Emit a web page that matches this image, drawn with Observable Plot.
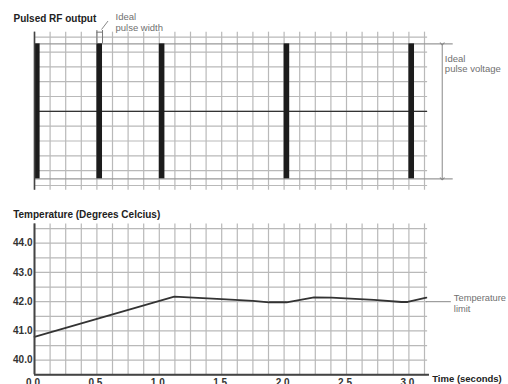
<!DOCTYPE html>
<html>
<head>
<meta charset="utf-8">
<script src="https://cdn.jsdelivr.net/npm/d3@7"></script>
<script src="https://cdn.jsdelivr.net/npm/@observablehq/plot@0.6"></script>
<style>
  html, body { margin: 0; padding: 0; background: #fff; }
  #chart { width: 508px; height: 384px; overflow: hidden; }
  #chart svg { display: block; }
</style>
</head>
<body>
<div id="chart"></div>
<script>
// ---- data ----
const pulseTimes = [0, 0.5, 1.0, 2.0, 3.0];      // seconds
const pulseWidth = 0.045;                          // seconds
const pulseLevel = 4.55;                           // ideal pulse voltage (grid units)
const gridTimes = d3.range(0, 26).map(k => k * 0.125);
const pulseGridLevels = d3.range(-5, 6);

const tempTime = [0, 1.12, 1.5, 1.75, 1.88, 2.02, 2.24, 2.38, 2.72, 2.94, 2.99, 3.14];
const tempValue = [40.8, 42.17, 42.09, 42.03, 41.98, 41.98, 42.15, 42.14, 42.06, 41.99, 41.99, 42.14];
const tempLimit = 42.0;
const tempGridLevels = d3.range(0, 11).map(k => 39.5 + k * 0.5);
const yTicks = [40, 41, 42, 43, 44];
const xTicks = [0, 0.5, 1.0, 1.5, 2.0, 2.5, 3.0];

const tempData = tempTime.map((t, i) => ({t, v: tempValue[i]}));

const FONT = "'Liberation Sans', Arial, Helvetica, sans-serif";
const GRID = "#b9b9b9";
const AXIS = "#444";
const NOTE = "#707070";

const common = {
  width: 508,
  marginLeft: 34,
  marginRight: 37.2,
  style: {fontFamily: FONT, fontSize: "10px", background: "transparent", overflow: "visible"}
};

// ---- top chart: pulsed RF output ----
const pulseChart = Plot.plot({
  ...common,
  height: 200,
  marginTop: 36.7,
  marginBottom: 15,
  x: {domain: [0, 3.5], axis: null},
  y: {domain: [-5, 5], axis: null},
  marks: [
    Plot.ruleX(gridTimes, {y1: 5.34, y2: -5.32, stroke: GRID, strokeWidth: 1.2}),
    Plot.ruleY(pulseGridLevels, {x1: 0, x2: 3.15, stroke: GRID, strokeWidth: 1.2}),
    Plot.ruleY([pulseLevel, -pulseLevel], {x1: 0, x2: 3.355, stroke: "#999", strokeWidth: 1.2}),
    Plot.ruleY([0], {x1: 0, x2: 3.15, stroke: "#333", strokeWidth: 1.4}),
    Plot.rect(pulseTimes, {x1: d => d, x2: d => d + pulseWidth, y1: -pulseLevel, y2: pulseLevel, fill: "#1c1c1c", inset: 0}),
    Plot.ruleX([0], {y1: 5.34, y2: -5.32, stroke: AXIS, strokeWidth: 1.6}),
    // ideal pulse voltage arrow
    Plot.link([0], {x1: 3.267, x2: 3.267, y1: pulseLevel, y2: -pulseLevel, stroke: "#888", strokeWidth: 1, markerStart: "arrow", markerEnd: "arrow"}),
    // ideal pulse width bracket
    Plot.ruleX([0.5, 0.5 + pulseWidth], {y1: 5.45, y2: pulseLevel, stroke: "#777", strokeWidth: 1}),
    Plot.ruleY([5.34], {x1: 0.5, x2: 0.5 + pulseWidth, stroke: "#777", strokeWidth: 1}),
    Plot.link([0], {x1: 0.537, y1: 5.52, x2: 0.589, y2: 6.09, stroke: "#888", strokeWidth: 1}),
    Plot.text(["Pulsed RF output"], {x: -0.168, y: 6.01, text: d => d, textAnchor: "start", lineAnchor: "bottom", fontWeight: "bold", fontSize: 10, fill: "#222"}),
    Plot.text(["Ideal"], {x: 0.649, y: 6.17, text: d => d, textAnchor: "start", lineAnchor: "bottom", fontSize: 9.5, fill: NOTE}),
    Plot.text(["pulse width"], {x: 0.649, y: 5.45, text: d => d, textAnchor: "start", lineAnchor: "bottom", fontSize: 9.5, fill: NOTE}),
    Plot.text(["Ideal"], {x: 3.288, y: 3.31, text: d => d, textAnchor: "start", lineAnchor: "bottom", fontSize: 9.5, fill: NOTE}),
    Plot.text(["pulse voltage"], {x: 3.288, y: 2.64, text: d => d, textAnchor: "start", lineAnchor: "bottom", fontSize: 9.5, fill: NOTE})
  ]
});

// ---- bottom chart: temperature ----
const tempChart = Plot.plot({
  ...common,
  height: 184,
  marginTop: 23.4,
  marginBottom: 9.7,
  x: {domain: [0, 3.5], axis: null},
  y: {domain: [39.5, 44.66], axis: null},
  marks: [
    Plot.ruleX(gridTimes, {y1: 39.5, y2: 44.66, stroke: GRID, strokeWidth: 1.2}),
    Plot.ruleY(tempGridLevels, {x1: 0, x2: 3.15, stroke: GRID, strokeWidth: 1.2}),
    Plot.ruleY([tempLimit], {x1: 3.14, x2: 3.34, stroke: "#888", strokeWidth: 1}),
    Plot.line(tempData, {x: "t", y: "v", stroke: "#333", strokeWidth: 1.8}),
    Plot.ruleX([0], {y1: 39.5, y2: 44.66, stroke: AXIS, strokeWidth: 2}),
    Plot.ruleY([39.5], {x1: 0, x2: 3.165, stroke: AXIS, strokeWidth: 2}),
    Plot.text(yTicks, {x: 0, y: d => d, text: d => d.toFixed(1), textAnchor: "end", dx: -2, fontWeight: "bold", fontSize: 10, fill: "#333"}),
    Plot.text(xTicks, {x: d => d, y: 39.12, text: d => d.toFixed(1), textAnchor: "middle", lineAnchor: "bottom", dx: -1.5, fontWeight: "bold", fontSize: 10, fill: "#333"}),
    Plot.text(["Temperature (Degrees Celcius)"], {x: -0.171, y: 44.87, text: d => d, textAnchor: "start", lineAnchor: "bottom", fontWeight: "bold", fontSize: 10, fill: "#222"}),
    Plot.text(["Time (seconds)"], {x: 3.187, y: 39.27, text: d => d, textAnchor: "start", lineAnchor: "bottom", fontWeight: "bold", fontSize: 9.5, fill: "#222"}),
    Plot.text(["Temperature"], {x: 3.36, y: 42.03, text: d => d, textAnchor: "start", lineAnchor: "bottom", fontSize: 9.3, fill: NOTE}),
    Plot.text(["limit"], {x: 3.36, y: 41.66, text: d => d, textAnchor: "start", lineAnchor: "bottom", fontSize: 9.3, fill: NOTE})
  ]
});

const chart = document.getElementById("chart");
chart.appendChild(pulseChart);
chart.appendChild(tempChart);
</script>
</body>
</html>
